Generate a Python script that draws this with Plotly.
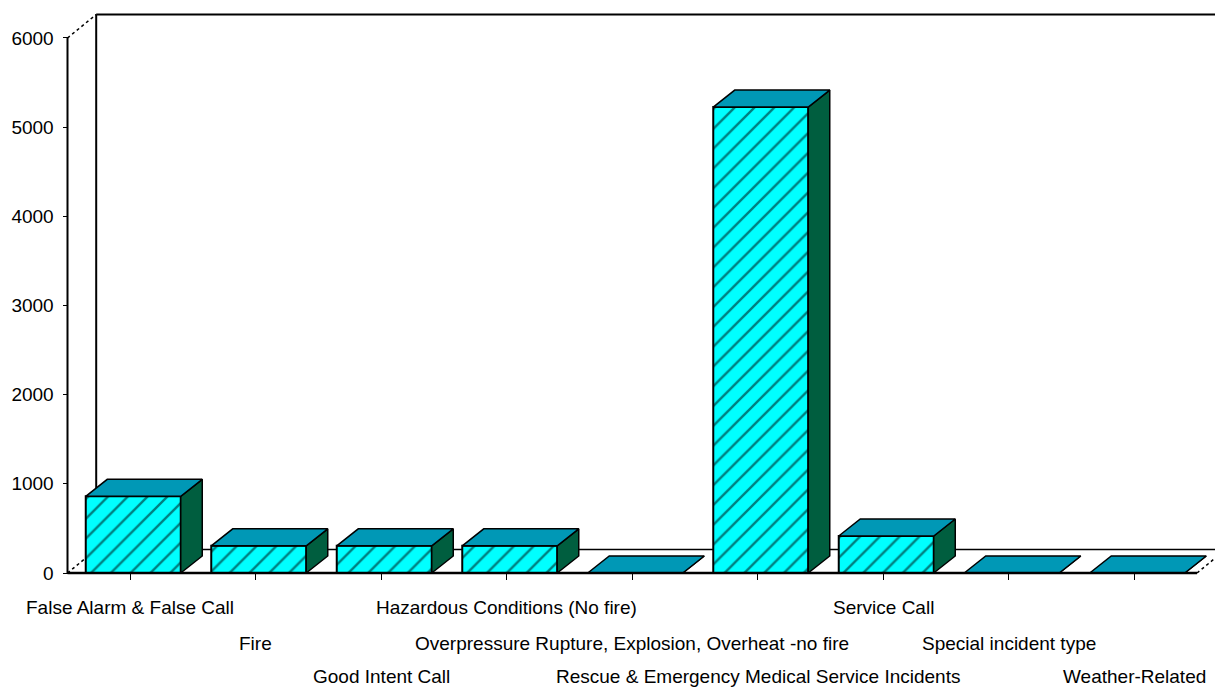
import plotly.graph_objects as go

# Incident categories and counts
categories = [
    "False Alarm & False Call",
    "Fire",
    "Good Intent Call",
    "Hazardous Conditions (No fire)",
    "Overpressure Rupture, Explosion, Overheat -no fire",
    "Rescue & Emergency Medical Service Incidents",
    "Service Call",
    "Special incident type",
    "Weather-Related",
]
counts = [860, 305, 305, 305, 0, 5225, 415, 0, 0]
y_ticks = [0, 1000, 2000, 3000, 4000, 5000, 6000]

# Pixel scale of the frame (for the pseudo-3D offsets)
W, H = 1215, 688
ML, MR, MT, MB = 60, 0, 10, 110
PX_PER_CAT = 125.5
PX_PER_UNIT = 0.08917
AXIS_PX = 67.5          # front y-axis, px from left
ZERO_PX = 573           # baseline, px from top

plot_w = W - ML - MR
plot_h = H - MT - MB
x0 = -0.5 - (AXIS_PX - ML) / PX_PER_CAT
x1 = x0 + plot_w / PX_PER_CAT
y0 = -(MT + plot_h - ZERO_PX) / PX_PER_UNIT
y1 = (ZERO_PX - MT) / PX_PER_UNIT

# wall depth and bar depth converted to data units
WDX, WDY = 28.7 / PX_PER_CAT, 23.5 / PX_PER_UNIT
BDX, BDY = 21.5 / PX_PER_CAT, 17.0 / PX_PER_UNIT
BAR_W = 0.757
BAR_SHIFT = 3.0 / PX_PER_CAT
n = len(categories)
xs = list(range(n))
bx = [i + BAR_SHIFT for i in xs]

FONT = "Liberation Sans, Arial, sans-serif"
FSIZE = 19
CYAN, TOP, SIDE = "#00FFFF", "#0098B6", "#005E3F"

fig = go.Figure()

# front faces, hatched
fig.add_trace(go.Bar(
    x=bx, y=counts, width=BAR_W,
    marker=dict(color=CYAN,
                pattern=dict(shape="/", fgcolor="black", bgcolor=CYAN, size=14, solidity=0.17),
                line=dict(color="black", width=2)),
    hoverinfo="skip",
))

# top and side faces
tx, ty, sx, sy = [], [], [], []
for c, v in zip(bx, counts):
    l, r = c - BAR_W / 2, c + BAR_W / 2
    tx += [l, r, r + BDX, l + BDX, l, None]
    ty += [v, v, v + BDY, v + BDY, v, None]
    sx += [r, r, r + BDX, r + BDX, r, None]
    sy += [0, v, v + BDY, BDY, 0, None]
fig.add_trace(go.Scatter(x=sx, y=sy, mode="lines", fill="toself", fillcolor=SIDE,
                         line=dict(color="black", width=1.5), hoverinfo="skip"))
fig.add_trace(go.Scatter(x=tx, y=ty, mode="lines", fill="toself", fillcolor=TOP,
                         line=dict(color="black", width=1.5), hoverinfo="skip"))

# frame: walls, floor, front axis
lo, hi = -0.5, n - 0.5
top = y_ticks[-1]
shapes = [
    # back wall
    dict(type="line", x0=lo + WDX, y0=WDY, x1=lo + WDX, y1=top + WDY, line=dict(color="black", width=2)),
    dict(type="line", x0=lo + WDX, y0=top + WDY, x1=x1, y1=top + WDY, line=dict(color="black", width=2)),
    # floor back edge
    dict(type="line", x0=lo + WDX, y0=WDY, x1=hi + WDX, y1=WDY, line=dict(color="black", width=1.5)),
    # depth edges
    dict(type="line", x0=lo, y0=top, x1=lo + WDX, y1=top + WDY, line=dict(color="black", width=1.5, dash="dot")),
    dict(type="line", x0=lo, y0=0, x1=lo + WDX, y1=WDY, line=dict(color="black", width=1.5, dash="dot")),
    dict(type="line", x0=hi, y0=0, x1=hi + WDX, y1=WDY, line=dict(color="black", width=1.5, dash="dot")),
    # front axis
    dict(type="line", x0=lo, y0=0, x1=lo, y1=top, line=dict(color="black", width=2)),
]
for s in shapes:
    s["xref"], s["yref"], s["layer"] = "x", "y", "below"
fig.update_layout(shapes=shapes)
fig.add_shape(type="line", xref="x", yref="y", x0=lo, y0=0, x1=hi, y1=0,
              line=dict(color="black", width=2.5), layer="above")

# staggered category labels (three rows)
row_offsets = [34, 70, 103]
for i, name in enumerate(categories):
    fig.add_annotation(x=i, y=0, xref="x", yref="y", text=name, showarrow=False,
                       yshift=-row_offsets[i % 3], yanchor="middle", xanchor="center",
                       font=dict(family=FONT, size=FSIZE, color="black"))

fig.update_layout(
    width=W, height=H,
    margin=dict(l=ML, r=MR, t=MT, b=MB),
    paper_bgcolor="white", plot_bgcolor="white",
    showlegend=False,
    xaxis=dict(range=[x0, x1], showgrid=False, zeroline=False, showline=False,
               tickvals=xs, ticks="outside", ticklen=6, tickwidth=1, tickcolor="black",
               showticklabels=False, anchor="free",
               position=(MT + plot_h - ZERO_PX) / plot_h),
    yaxis=dict(range=[y0, y1], showgrid=False, zeroline=False, showline=False,
               tickvals=y_ticks, ticktext=[str(t) for t in y_ticks],
               ticks="outside", ticklen=5, tickwidth=1, tickcolor="black",
               ticklabelstandoff=5,
               tickfont=dict(family=FONT, size=FSIZE, color="black"),
               anchor="free", position=(AXIS_PX - ML) / plot_w),
)

fig.write_html("out.html")
